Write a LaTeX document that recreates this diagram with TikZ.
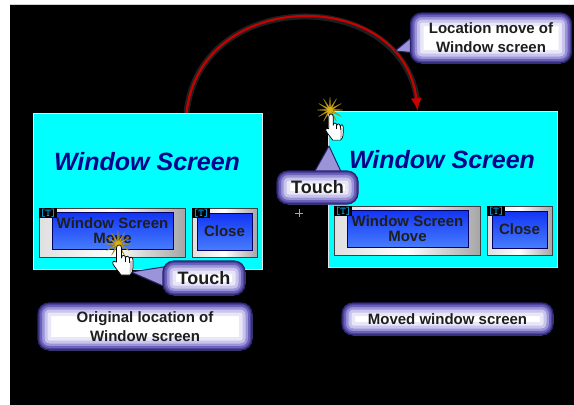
\documentclass[tikz,border=0pt]{standalone}
\usepackage{fontspec}
\setmainfont{Liberation Sans}
\usetikzlibrary{shapes.geometric,arrows.meta,calc}

\definecolor{scrcyan}{RGB}{0,255,255}
\definecolor{titleblue}{RGB}{5,5,140}
\definecolor{arcred}{RGB}{200,0,0}
\definecolor{bubA}{RGB}{232,230,248}
\definecolor{bubB}{RGB}{200,196,236}
\definecolor{bubC}{RGB}{156,148,216}
\definecolor{bubD}{RGB}{108,98,186}
\definecolor{bubF}{RGB}{78,68,160}
\definecolor{bubE}{RGB}{40,36,105}
\definecolor{btnblue}{RGB}{18,52,245}
\definecolor{btnlight}{RGB}{70,125,252}
\definecolor{burstgold}{RGB}{222,178,20}
\definecolor{inkgray}{RGB}{30,30,30}

\tikzset{
  x=1pt, y=-1pt,
  screen/.style={draw=white!80!gray, line width=0.8pt, fill=scrcyan,
    minimum width=229pt, minimum height=156pt, inner sep=0pt, anchor=north west},
  titletext/.style={text=titleblue, inner sep=0pt,
    font=\bfseries\itshape\fontsize{25}{28}\selectfont},
  btnframe/.style={draw=gray!50!black, line width=0.5pt, left color=gray!25,
    right color=gray!70, middle color=white, inner sep=0pt, minimum height=49pt},
  btnface/.style={draw=blue!40!black, line width=0.8pt, top color=btnblue,
    bottom color=btnlight, inner sep=0pt, minimum height=37pt, align=center,
    text=inkgray, font=\bfseries\fontsize{15}{15.5}\selectfont},
  tagbox/.style={fill=black, text=cyan, inner sep=0.6pt, anchor=north west,
    font=\ttfamily\bfseries\fontsize{10.5}{10.5}\selectfont},
  bubble/.style={rounded corners=11pt, draw=bubE, line width=1.2pt, fill=white,
    inner sep=0pt, align=center, text=inkgray,
    font=\bfseries\fontsize{15}{19}\selectfont,
    path picture={
      \foreach \w/\c in {26/bubA,19/bubB,13/bubC,8/bubD,4/bubF}{
        \draw[color=\c, line width=\w pt, rounded corners=11pt]
          (path picture bounding box.south west) rectangle
          (path picture bounding box.north east);}}},
  touchbubble/.style={bubble, font=\bfseries\fontsize{18}{20}\selectfont},
  tailstyle/.style={fill=bubC, draw=bubE, line width=1pt, line join=round},
  burst/.style={star, star points=12, star point ratio=4.5, minimum size=26pt,
    inner sep=0pt, fill=burstgold, draw=burstgold!70!black, line width=0.3pt},
  movearc/.style={draw=arcred, line width=2.2pt,
    -{Latex[length=13pt,width=11pt]}},
}

% one window screen with its two touch buttons; #1 = name prefix, (#2,#3) = top-left corner
\newcommand\drawscreen[3]{%
  \begin{scope}[shift={(#2,#3)}]
    \node[screen] (#1win) at (0,0) {};
    \node[titletext] (#1title) at (114,48.5) {Window Screen};
    \node[btnframe, minimum width=146pt] (#1movef) at (79,119.5) {};
    \node[btnface, minimum width=121pt] (#1move) at (79.5,117.5) {Window Screen\\Move};
    \node[btnframe, minimum width=65pt] (#1closef) at (191.5,119.5) {};
    \node[btnface, minimum width=55pt] (#1close) at (191.5,118.5) {Close};
    \node[tagbox] (#1movetag) at (6,95) {[T]};
    \node[tagbox] (#1closetag) at (159,95) {[T]};
  \end{scope}}

% pointing hand cursor; fingertip at (#1,#2), scaled by #3
\newcommand\drawhand[3]{%
  \begin{scope}[shift={(#1,#2)}, scale=#3]
    \draw[fill=white, draw=black, line width=0.7pt, line join=round]
      (-2.5,3) .. controls (-2.5,-1) and (2.5,-1) .. (2.5,3) -- (2.5,13)
      .. controls (2.5,9.5) and (6.5,9.5) .. (6.5,13)
      .. controls (6.5,10.5) and (10.5,10.5) .. (10.5,14)
      .. controls (10.5,11.5) and (14,11.5) .. (14,15)
      -- (14,22) .. controls (14,27) and (12,29) .. (11,30) -- (2,30)
      .. controls (0,27) and (-3,24) .. (-6,19)
      .. controls (-7.5,16.5) and (-4,15) .. (-2.5,17) -- cycle;
    \draw[black, line width=0.5pt] (6.5,13) -- (6.5,17) (10.5,14) -- (10.5,18);
    \fill[gray!45] (11,16) -- (13.2,16) -- (13.2,23) .. controls (13.2,26) and (12,28) .. (10.5,29) -- cycle;
  \end{scope}}

\begin{document}
\begin{tikzpicture}
  % page and black panel
  \useasboundingbox (0,0) rectangle (574,405);
  \fill[white] (0,0) rectangle (574,405);
  \fill[black] (9.5,5) rectangle (574,405);
  \draw[gray!35, line width=0.8pt] (9.5,4.6) -- (574,4.6);

  % the two window screens
  \drawscreen{l}{33}{113}
  \drawscreen{r}{328}{111}

  % small crosshair between the screens
  \draw[gray!70, line width=0.6pt] (295,213) -- (303,213) (299,209) -- (299,217);

  % move arc from the original to the new location
  \coordinate (arcfrom) at ($(lwin.north west)!0.668!(lwin.north east)$);
  \coordinate (arcto) at ($(rwin.north west)!0.39!(rwin.north east)$);
  \draw[white, opacity=0.12, line width=6pt]
    (arcfrom) .. controls (200,-14) and (404,-14) .. ($(arcto)+(0,-8)$);
  \draw[movearc] (arcfrom) .. controls (200,-14) and (404,-14) .. (arcto);

  % callout tails
  \draw[tailstyle] (418,32) -- (395,51) -- (418,53) -- cycle;
  \draw[tailstyle] (170,266) -- (131,272) -- (170,289) -- cycle;
  \draw[tailstyle] (311,178) -- (329,146) -- (344,178) -- cycle;

  % callouts
  \node[bubble, minimum width=161pt, minimum height=50pt] (bmove) at (491,38)
    {Location move of\\Window screen};
  \node[bubble, minimum width=214pt, minimum height=47pt] (borig) at (145,326.5)
    {Original location of\\Window screen};
  \node[bubble, minimum width=211pt, minimum height=32pt] (bmoved) at (447.5,319)
    {Moved window screen};
  \node[touchbubble, minimum width=82pt, minimum height=34pt] (ltouch) at (204,278) {Touch};
  \node[touchbubble, minimum width=81pt, minimum height=33pt] (rtouch) at (317.5,187.5) {Touch};

  % touch points
  \node[burst] (lburst) at (118,244) {};
  \node[burst] (rburst) at (330,110) {};
  \drawhand{119}{245}{1}
  \drawhand{331}{114}{0.87}
\end{tikzpicture}
\end{document}
